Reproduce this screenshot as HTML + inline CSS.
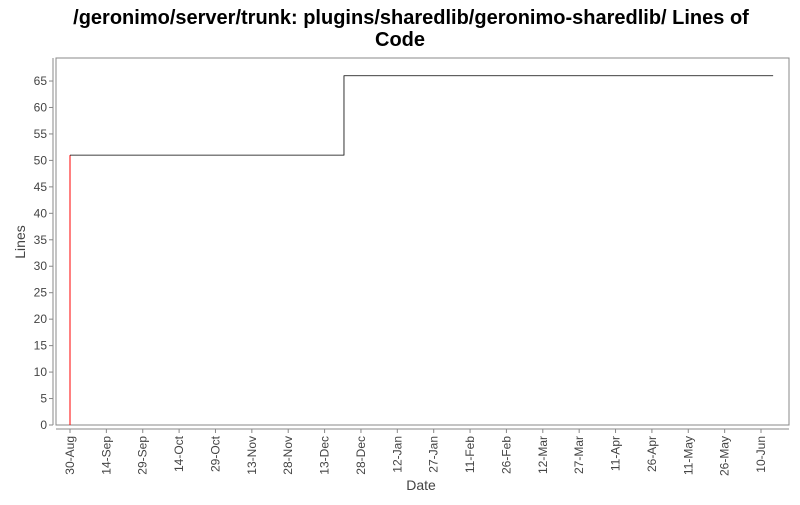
<!DOCTYPE html>
<html><head><meta charset="utf-8"><style>
body{margin:0;background:#fff;}
svg text{font-family:"Liberation Sans",sans-serif;}
</style></head><body>
<svg width="800" height="500" xmlns="http://www.w3.org/2000/svg">
<text x="411" y="24" text-anchor="middle" font-size="20" font-weight="bold">/geronimo/server/trunk: plugins/sharedlib/geronimo-sharedlib/ Lines of</text>
<text x="400" y="46" text-anchor="middle" font-size="20" font-weight="bold">Code</text>
<rect x="56" y="58" width="733" height="367" fill="#fff" stroke="#888"/>
<line x1="53" y1="58" x2="53" y2="425" stroke="#888"/>
<line x1="56" y1="429" x2="789" y2="429" stroke="#888"/>
<g id="yt"></g><g id="xt"></g><g id="series"></g>
<text x="421" y="490" text-anchor="middle" font-size="14" fill="#444">Date</text>
<text transform="translate(25,242) rotate(-90)" text-anchor="middle" font-size="14" fill="#444">Lines</text>
</svg>
<script>
const yTicks=[0,5,10,15,20,25,30,35,40,45,50,55,60,65];
const xTickLabels=["30-Aug","14-Sep","29-Sep","14-Oct","29-Oct","13-Nov","28-Nov","13-Dec","28-Dec","12-Jan","27-Jan","11-Feb","26-Feb","12-Mar","27-Mar","11-Apr","26-Apr","11-May","26-May","10-Jun"];
const dates=["2007-08-30","2007-12-21","2008-06-15"];
const values=[51,66,66];
const NS="http://www.w3.org/2000/svg";
const t0=Date.parse("2007-08-30");
function xs(d){return 70+(Date.parse(d)-t0)/864e5*2.4246;}
function ys(v){return 425-v*5.292;}
function mk(tag,a,p){const e=document.createElementNS(NS,tag);for(const k in a)e.setAttribute(k,a[k]);p.appendChild(e);return e;}
const yt=document.getElementById('yt');
yTicks.forEach(v=>{const y=ys(v);
 const l=mk('line',{x1:49,x2:53,y1:y,y2:y,stroke:'#888'},yt);
 
 
 const t=mk('text',{x:47,y:y+4,'text-anchor':'end','font-size':12,fill:'#444'},yt);t.textContent=v;
 
 
});
const xt=document.getElementById('xt');
xTickLabels.forEach((s,i)=>{const x=70+i*15*2.4246;
 const l=mk('line',{x1:x,x2:x,y1:429,y2:433,stroke:'#888'},xt);
 
 
 const t=mk('text',{transform:`translate(${x+4},436) rotate(-90)`,'text-anchor':'end','font-size':12,fill:'#444'},xt);t.textContent=s;
 
 
});
const sg=document.getElementById('series');
const r=mk('line',{x1:xs(dates[0]),x2:xs(dates[0]),y1:ys(0),y2:ys(values[0]),stroke:'#f00'},sg);


let d=`M${xs(dates[0])},${ys(values[0])}`;
for(let i=1;i<dates.length;i++){d+=`H${xs(dates[i])}V${ys(values[i])}`;}
const p=mk('path',{d:d,fill:'none',stroke:'#000','stroke-width':0.8},sg);


</script>
</body></html>
